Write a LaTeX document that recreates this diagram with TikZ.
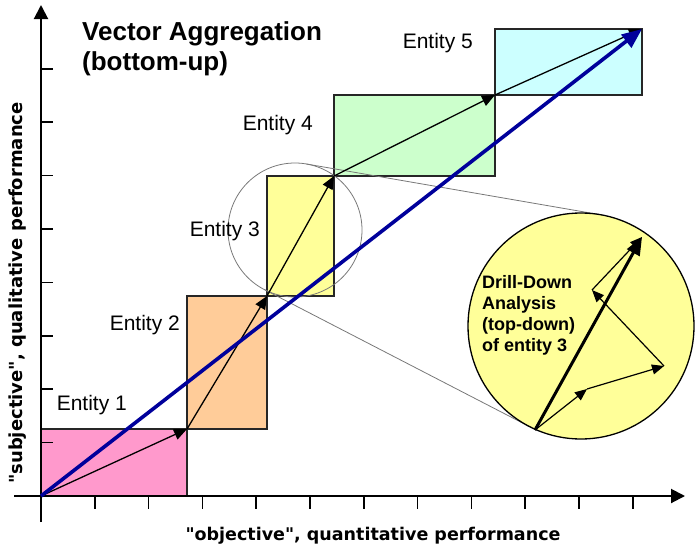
\documentclass[tikz,border=0pt]{standalone}
\usepackage{fontspec}
\setmainfont{Liberation Sans}
\newfontfamily\dvsans{DejaVu Sans}
\usetikzlibrary{arrows.meta}
\definecolor{epink}{HTML}{FF99CC}
\definecolor{eorange}{HTML}{FFCC99}
\definecolor{eyellow}{HTML}{FFFF99}
\definecolor{egreen}{HTML}{CCFFCC}
\definecolor{ecyan}{HTML}{CCFFFF}
\definecolor{vblue}{RGB}{0,0,155}
\definecolor{lgray}{RGB}{120,120,120}
\begin{document}
\begin{tikzpicture}[x=1pt,y=-1pt,
  ebox/.style={draw=black!85,line width=1.4pt},
  axisline/.style={line width=2pt,-{Triangle[length=14pt,width=14pt]}},
  tickline/.style={line width=1.6pt},
  varrow/.style={line width=1.3pt,-{Triangle[length=13pt,width=11pt]}},
  bluearrow/.style={vblue,line width=3.6pt,-{Triangle[length=20pt,width=16pt]}},
  thickarrow/.style={line width=3pt,-{Triangle[length=18pt,width=14pt]}},
  thinarrow/.style={line width=1.2pt,-{Triangle[length=12pt,width=10pt]}},
  zoomline/.style={lgray,line width=0.8pt},
  entlabel/.style={font=\fontsize{21}{24}\selectfont,inner sep=0pt,anchor=base east},
]
\useasboundingbox (0,0) rectangle (696,549);
% key points
\coordinate (o) at (41,496);
\coordinate (p1) at (187,429);
\coordinate (p2) at (267,296);
\coordinate (p3) at (334,176);
\coordinate (p4) at (495,95);
\coordinate (p5) at (642,29);
% entity boxes
\draw[ebox,fill=epink] (o) rectangle (p1);
\draw[ebox,fill=eorange] (p1) rectangle (p2);
\draw[ebox,fill=eyellow] (p2) rectangle (p3);
\draw[ebox,fill=egreen] (p3) rectangle (p4);
\draw[ebox,fill=ecyan] (p4) rectangle (p5);
% axes
\coordinate (xs) at (14,496);
\coordinate (xe) at (685,496);
\coordinate (ys) at (41,522);
\coordinate (ye) at (41,5);
\draw[axisline] (xs) -- (xe);
\draw[axisline] (ys) -- (ye);
\foreach \i in {1,...,11} \draw[tickline] ({41+53.8*\i},496) -- ({41+53.8*\i},509);
\foreach \i in {1,...,8} \draw[tickline] (41,{496-53.4*\i}) -- (53,{496-53.4*\i});
% zoom circle and tangent lines
\node[circle,draw=lgray,line width=0.8pt,minimum size=134pt,inner sep=0pt] (zc) at (295,230) {};
\coordinate (t1a) at (306.4,164);
\coordinate (t1b) at (600.2,214.7);
\coordinate (t2a) at (264.2,289.5);
\coordinate (t2b) at (529.1,426.4);
\draw[zoomline] (t1a) -- (t1b);
\draw[zoomline] (t2a) -- (t2b);
% vector arrows
\draw[varrow] (o) -- (p1);
\draw[varrow] (p1) -- (p2);
\draw[varrow] (p2) -- (p3);
\draw[varrow] (p3) -- (p4);
\draw[varrow] (p4) -- (p5);
\draw[bluearrow] (o) -- (p5);
% drill-down circle
\node[circle,draw=black,line width=1.3pt,fill=eyellow,minimum size=226pt,inner sep=0pt] (bc) at (581,326) {};
\coordinate (da) at (535,430);
\coordinate (db) at (587,389);
\coordinate (dc) at (664,366);
\coordinate (dd) at (592,290);
\coordinate (de) at (642,237);
\draw[thinarrow] (da) -- (db);
\draw[thinarrow] (db) -- (dc);
\draw[thinarrow] (dc) -- (dd);
\draw[thinarrow] (dd) -- (de);
\draw[thickarrow] (da) -- (de);
% texts
\node[font=\bfseries\fontsize{26}{30}\selectfont,align=left,anchor=base west,inner sep=0pt] (title) at (82,70) {Vector Aggregation\\(bottom-up)};
\node[entlabel] (l1) at (127,410) {Entity 1};
\node[entlabel] (l2) at (180,330) {Entity 2};
\node[entlabel] (l3) at (260,236) {Entity 3};
\node[entlabel] (l4) at (313,130) {Entity 4};
\node[entlabel] (l5) at (473,48) {Entity 5};
\node[font=\bfseries\fontsize{18}{21}\selectfont,align=left,anchor=base west,inner sep=0pt] (drill) at (482,351) {Drill-Down\\Analysis\\(top-down)\\of entity 3};
\node[font=\dvsans\bfseries\fontsize{17.5}{20}\selectfont,anchor=base,inner sep=0pt] (xlab) at (373,540) {"objective", quantitative performance};
\node[font=\dvsans\bfseries\fontsize{18}{20}\selectfont,anchor=base,rotate=90,inner sep=0pt] (ylab) at (22,293) {"subjective", qualitative performance};
\end{tikzpicture}
\end{document}
